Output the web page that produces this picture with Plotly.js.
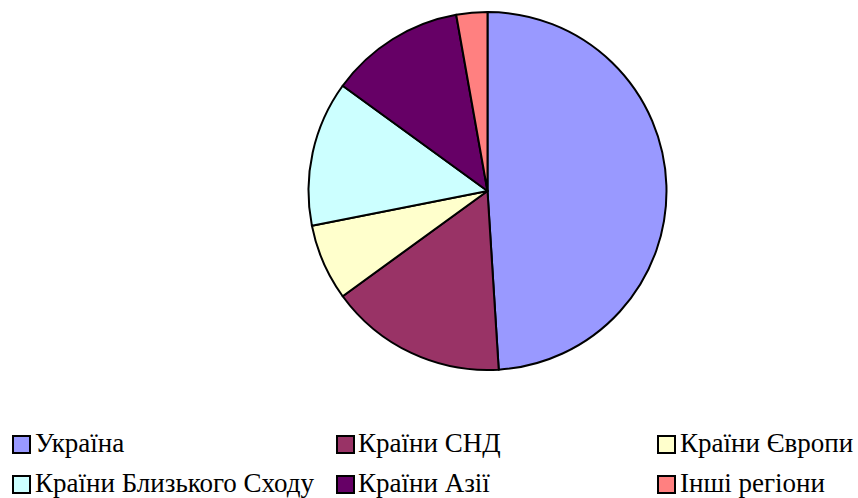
<!DOCTYPE html>
<html>
<head>
<meta charset="utf-8">
<script src="https://cdn.plot.ly/plotly-3.0.1.min.js"></script>
<style>html,body{margin:0;padding:0;background:#fff;}#chart{width:858px;height:498px;}</style>
</head>
<body>
<div id="chart"></div>
<script>
var labels = ["Україна", "Країни СНД", "Країни Європи", "Країни Близького Сходу", "Країни Азії", "Інші регіони"];
var values = [49.0, 16.0, 6.9, 13.1, 12.2, 2.8];
var colors = ["#9999FF", "#993366", "#FFFFCC", "#CCFFFF", "#660066", "#FF8080"];

var W = 858, H = 498;
var FONT = "Liberation Serif";

var data = [{
  type: "pie",
  labels: labels,
  values: values,
  sort: false,
  direction: "clockwise",
  rotation: 0,
  textinfo: "none",
  hoverinfo: "label+percent",
  showlegend: false,
  marker: {colors: colors, line: {color: "#000000", width: 2}},
  domain: {x: [307.5 / W, 667.5 / W], y: [1 - 370 / H, 1 - 12 / H]}
}];

// legend laid out in 3 columns x 2 rows, built from labels/colors
var colSquareX = [13, 337, 658];
var colTextX = [33, 356, 678];
var rowCenterY = [444.5, 484.5];
var sq = 17;
var shapes = [], annotations = [];
labels.forEach(function (lab, i) {
  var c = i % 3, r = Math.floor(i / 3);
  var x0 = colSquareX[c], yc = rowCenterY[r];
  shapes.push({
    type: "rect", xref: "paper", yref: "paper",
    x0: x0 / W, x1: (x0 + sq) / W,
    y0: 1 - (yc - sq / 2) / H, y1: 1 - (yc + sq / 2) / H,
    fillcolor: colors[i], line: {color: "#000000", width: 2}
  });
  annotations.push({
    xref: "paper", yref: "paper",
    x: colTextX[c] / W, y: 1 - (yc - 2) / H,
    xanchor: "left", yanchor: "middle",
    text: lab, showarrow: false,
    font: {family: FONT, size: 27, color: "#000000"}
  });
});

var layout = {
  width: W, height: H,
  margin: {l: 0, r: 0, t: 0, b: 0},
  paper_bgcolor: "#ffffff",
  plot_bgcolor: "#ffffff",
  font: {family: FONT, size: 27, color: "#000000"},
  showlegend: false,
  shapes: shapes,
  annotations: annotations
};

Plotly.newPlot("chart", data, layout, {displayModeBar: false, staticPlot: true});
</script>
</body>
</html>
